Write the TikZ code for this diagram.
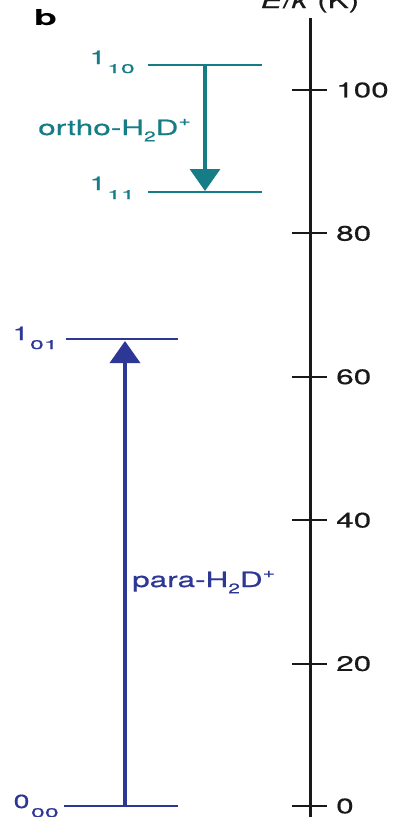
\documentclass[tikz,border=0pt]{standalone}
\usepackage{fontspec}
\setmainfont{TeX Gyre Heros}[FakeStretch=1.5,FakeBold=0.6]
\newfontfamily\bfam{TeX Gyre Heros}[FakeStretch=1.7]
\newfontfamily\subfam{TeX Gyre Heros}[FakeStretch=2.0,FakeBold=0.6]
\usetikzlibrary{arrows.meta}
\definecolor{tealc}{RGB}{22,125,135}
\definecolor{bluec}{RGB}{45,55,150}
\definecolor{axisc}{RGB}{25,25,25}
\newcommand{\lvsub}[1]{\kern1.5pt\raisebox{-9pt}{\subfam\fontsize{12.5}{12.5}\selectfont #1}}
\newcommand{\hsub}[1]{\raisebox{-0.3em}{\fontsize{14}{14}\selectfont #1}}
\newcommand{\hsup}[1]{\raisebox{0.45em}{\fontsize{14}{14}\selectfont #1}}
\tikzset{
  axisline/.style={draw=axisc, line width=3pt},
  tickline/.style={draw=axisc, line width=2pt},
  ticklab/.style={anchor=west, inner sep=0pt, text=axisc, font=\fontsize{21}{21}\selectfont},
  tlevel/.style={draw=tealc, line width=1.4pt},
  blevel/.style={draw=bluec, line width=1.4pt},
  tlab/.style={anchor=base east, inner sep=0pt, text=tealc, font=\fontsize{19}{19}\selectfont},
  blab/.style={anchor=base east, inner sep=0pt, text=bluec, font=\fontsize{19}{19}\selectfont},
  tarrow/.style={draw=tealc, line width=3.5pt, -{Triangle[width=30pt,length=22pt]}},
  barrow/.style={draw=bluec, line width=3.5pt, -{Triangle[width=30pt,length=22pt]}},
  speclab/.style={anchor=base west, inner sep=0pt, font=\fontsize{21}{21}\selectfont}
}
\begin{document}
\begin{tikzpicture}[x=1pt,y=-1pt]
\useasboundingbox (0,0) rectangle (394,817);
% panel letter
\node[anchor=base west, inner sep=0pt, font=\bfam\bfseries\fontsize{22}{22}\selectfont] (panel) at (34,25) {b};
% axis
\coordinate (atop) at (310,18);
\coordinate (abot) at (310,822);
\draw[axisline] (atop) -- (abot);
\node[anchor=base, inner sep=0pt, text=axisc, font=\fontsize{21}{21}\selectfont] (axlab) at (310,8) {\textit{E}/\textit{k} (K)};
\foreach \v/\yy in {0/806,20/663.6,40/520.2,60/376.8,80/233.4,100/90} {
  \coordinate (tl\v) at (292,\yy);
  \coordinate (tr\v) at (327,\yy);
  \draw[tickline] (tl\v) -- (tr\v);
  \node[ticklab] (lab\v) at (336,\yy) {\v};
}
% ortho levels
\coordinate (o1a) at (148,65);  \coordinate (o1b) at (262,65);
\coordinate (o2a) at (148,192); \coordinate (o2b) at (262,192);
\draw[tlevel] (o1a) -- (o1b);
\draw[tlevel] (o2a) -- (o2b);
\node[tlab] (l110) at (135,64) {1\lvsub{10}};
\node[tlab] (l111) at (135,190) {1\lvsub{11}};
\coordinate (tas) at (205,66);
\coordinate (tae) at (205,191);
\draw[tarrow] (tas) -- (tae);
\node[speclab, text=tealc] (ortho) at (38,135) {ortho-H\hsub{2}D\hsup{+}};
% para levels
\coordinate (p1a) at (66,339);  \coordinate (p1b) at (178,339);
\coordinate (p0a) at (64,806);  \coordinate (p0b) at (178,806);
\draw[blevel] (p1a) -- (p1b);
\draw[blevel] (p0a) -- (p0b);
\node[blab] (l101) at (58,340) {1\lvsub{01}};
\node[blab] (l000) at (59,808) {0\lvsub{00}};
\coordinate (bas) at (125,806);
\coordinate (bae) at (125,341);
\draw[barrow] (bas) -- (bae);
\node[speclab, text=bluec] (para) at (132,587) {para-H\hsub{2}D\hsup{+}};
\end{tikzpicture}
\end{document}
